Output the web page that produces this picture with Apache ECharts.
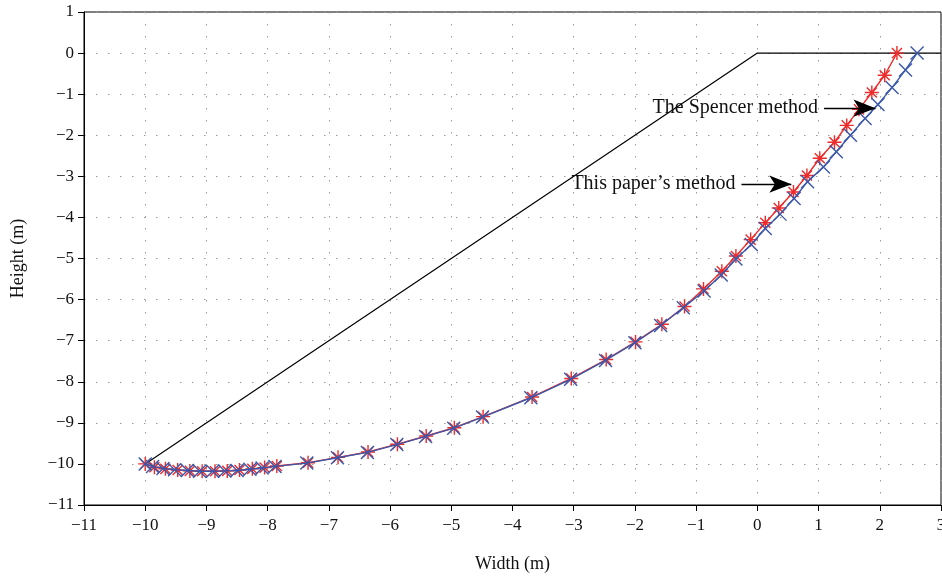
<!DOCTYPE html>
<html>
<head>
<meta charset="utf-8">
<script src="https://cdn.jsdelivr.net/npm/echarts@6/dist/echarts.min.js"></script>
<style>html,body{margin:0;padding:0;background:#fff}#c{width:942px;height:576px}</style>
</head>
<body>
<div id="c"></div>
<script>
// Slope profile (black)
const slopeX = [-10, 0, 3];
const slopeY = [-10, 0, 0];

// This paper's method (red stars)
const paperX = [-10.0, -9.85, -9.67, -9.47, -9.27, -9.07, -8.86, -8.66, -8.46, -8.25, -8.05, -7.85, -7.34, -6.85, -6.36, -5.88, -5.41, -4.95, -4.48, -3.68, -3.04, -2.47, -1.99, -1.56, -1.19, -0.88, -0.58, -0.35, -0.11, 0.13, 0.35, 0.59, 0.81, 1.02, 1.26, 1.46, 1.66, 1.87, 2.08, 2.28];
const paperY = [-10.0, -10.08, -10.12, -10.15, -10.17, -10.18, -10.18, -10.17, -10.15, -10.12, -10.09, -10.05, -9.97, -9.84, -9.71, -9.52, -9.32, -9.12, -8.85, -8.37, -7.92, -7.46, -7.03, -6.60, -6.17, -5.74, -5.31, -4.94, -4.54, -4.13, -3.77, -3.38, -2.98, -2.56, -2.17, -1.76, -1.37, -0.96, -0.54, 0.0];

// The Spencer method (blue crosses)
const spencerX = [-10.0, -9.88, -9.71, -9.52, -9.31, -9.11, -8.90, -8.70, -8.50, -8.29, -8.09, -7.88, -7.36, -6.86, -6.37, -5.89, -5.42, -4.96, -4.49, -3.70, -3.05, -2.48, -2.00, -1.58, -1.21, -0.87, -0.59, -0.35, -0.10, 0.13, 0.37, 0.60, 0.82, 1.08, 1.29, 1.52, 1.76, 1.97, 2.20, 2.42, 2.61];
const spencerY = [-10.0, -10.06, -10.11, -10.14, -10.16, -10.18, -10.18, -10.17, -10.16, -10.13, -10.10, -10.06, -9.98, -9.85, -9.72, -9.53, -9.33, -9.13, -8.86, -8.39, -7.94, -7.48, -7.05, -6.63, -6.20, -5.79, -5.40, -5.01, -4.66, -4.27, -3.92, -3.54, -3.13, -2.77, -2.40, -2.00, -1.59, -1.25, -0.84, -0.41, 0.0];

const xTicks = [-11, -10, -9, -8, -7, -6, -5, -4, -3, -2, -1, 0, 1, 2, 3];
const yTicks = [-11, -10, -9, -8, -7, -6, -5, -4, -3, -2, -1, 0, 1];

const spencerLabel = 'The Spencer method';
const paperLabel = 'This paper\u2019s method';
const spencerArrow = [[1.09, -1.34], [1.93, -1.34]];
const paperArrow = [[-0.26, -3.19], [0.555, -3.19]];

const zip = (a, b) => a.map((v, i) => [v, b[i]]);
const fmt = v => String(v).replace('-', '\u2212');
const FONT = '"Liberation Serif", "DejaVu Serif", serif';

const starPath = 'path://M0,-5L0,5M-5,0L5,0M-3.6,-3.6L3.6,3.6M-3.6,3.6L3.6,-3.6';
const crossPath = 'path://M-5,-5L5,5M-5,5L5,-5';

function arrowLine(pts, text) {
  return {
    silent: true,
    symbol: ['none', 'arrow'],
    symbolSize: [13, 22],
    lineStyle: { color: '#000', width: 1.4, type: 'solid' },
    label: {
      show: true, position: 'start', formatter: text, distance: 6,
      color: '#111', fontFamily: FONT, fontSize: 20
    },
    emphasis: { disabled: true },
    data: [[{ coord: pts[0] }, { coord: pts[1] }]]
  };
}

const chart = echarts.init(document.getElementById('c'), null, { renderer: 'canvas' });
const gridLine = { show: true, lineStyle: { color: '#9a9a9a', type: [1.5, 10.5], width: 1 } };
chart.setOption({
  animation: false,
  backgroundColor: '#fff',
  grid: { left: 84, right: 1, top: 12, bottom: 71, show: true, borderColor: '#000', borderWidth: 1, backgroundColor: 'transparent', outerBoundsMode: 'none', containLabel: false },
  xAxis: {
    type: 'value', min: xTicks[0], max: xTicks[xTicks.length - 1], interval: 1,
    name: 'Width (m)', nameLocation: 'middle', nameGap: 50,
    nameTextStyle: { fontFamily: FONT, fontSize: 18, color: '#111' },
    axisLine: { show: true, onZero: false, lineStyle: { color: '#000', width: 1 } },
    axisTick: { show: true, length: 6, lineStyle: { color: '#000' } },
    axisLabel: { fontFamily: FONT, fontSize: 17, color: '#111', margin: 12, formatter: fmt },
    splitLine: gridLine
  },
  yAxis: {
    type: 'value', min: yTicks[0], max: yTicks[yTicks.length - 1], interval: 1,
    name: 'Height (m)', nameLocation: 'middle', nameGap: 57, nameRotate: 90,
    nameTextStyle: { fontFamily: FONT, fontSize: 18, color: '#111' },
    axisLine: { show: true, onZero: false, lineStyle: { color: '#000', width: 1 } },
    axisTick: { show: true, length: 6, lineStyle: { color: '#000' } },
    axisLabel: { fontFamily: FONT, fontSize: 17, color: '#111', margin: 10, formatter: fmt },
    splitLine: gridLine
  },
  series: [
    {
      name: 'Slope', type: 'line', data: zip(slopeX, slopeY), symbol: 'none',
      lineStyle: { color: '#000', width: 1.2 }, z: 2, silent: true
    },
    {
      name: paperLabel, type: 'line', data: zip(paperX, paperY),
      symbol: starPath, symbolSize: 14, showAllSymbol: true,
      lineStyle: { color: '#ee2a2a', width: 1.4 },
      itemStyle: { color: '#ee2a2a', borderColor: '#ee2a2a', borderWidth: 1.4 },
      z: 3, silent: true,
      markLine: arrowLine(paperArrow, paperLabel)
    },
    {
      name: 'The Spencer method', type: 'line', data: zip(spencerX, spencerY),
      symbol: crossPath, symbolSize: 13, showAllSymbol: true,
      lineStyle: { color: '#3a58aa', width: 1.4 },
      itemStyle: { color: '#3a58aa', borderColor: '#3a58aa', borderWidth: 1.4 },
      z: 4, silent: true,
      markLine: arrowLine(spencerArrow, spencerLabel)
    }
  ]
});
</script>
</body>
</html>
